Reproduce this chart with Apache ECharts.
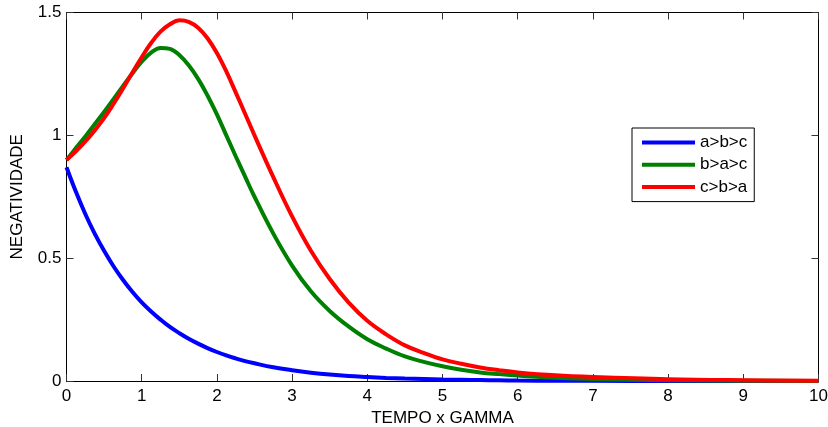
<!DOCTYPE html>
<html>
<head>
<meta charset="utf-8">
<script src="https://cdn.jsdelivr.net/npm/echarts@6/dist/echarts.min.js"></script>
<style>
  html, body { margin: 0; padding: 0; background: #fff; }
  #chart { width: 828px; height: 427px; }
</style>
</head>
<body>
<div id="chart"></div>
<script>
// Sample times (TEMPO x GAMMA)
const tempo = [0, 0.125, 0.25, 0.375, 0.5, 0.625, 0.75, 0.875, 1, 1.125, 1.25, 1.375, 1.5, 1.625, 1.75, 1.875, 2, 2.125, 2.25, 2.375, 2.5,
  2.75, 3, 3.25, 3.5, 3.75, 4, 4.25, 4.5, 4.75, 5, 5.25, 5.5, 5.75, 6, 6.5, 7, 8, 9, 10];

// Negativity for each ordering
const abc = [0.87, 0.77, 0.68, 0.60, 0.53, 0.467, 0.412, 0.363, 0.32, 0.283, 0.25, 0.22, 0.195, 0.172, 0.152, 0.134, 0.118, 0.104, 0.092, 0.081, 0.072,
  0.056, 0.044, 0.034, 0.026, 0.02, 0.016, 0.0125, 0.01, 0.008, 0.006, 0.005, 0.004, 0.003, 0.002, 0.001, 0.001, 0, 0, 0];
const bac = [0.90, 0.948, 0.995, 1.045, 1.095, 1.147, 1.20, 1.252, 1.30, 1.337, 1.356, 1.352, 1.327, 1.285, 1.23, 1.162, 1.085, 1.0, 0.915, 0.832, 0.75,
  0.60, 0.47, 0.365, 0.285, 0.222, 0.17, 0.132, 0.10, 0.078, 0.06, 0.046, 0.035, 0.028, 0.022, 0.013, 0.008, 0.003, 0.001, 0];
const cba = [0.90, 0.935, 0.975, 1.02, 1.07, 1.128, 1.19, 1.255, 1.318, 1.376, 1.422, 1.452, 1.468, 1.462, 1.438, 1.395, 1.335, 1.26, 1.175, 1.088, 1.00,
  0.83, 0.67, 0.53, 0.415, 0.32, 0.245, 0.19, 0.145, 0.114, 0.088, 0.07, 0.055, 0.044, 0.035, 0.023, 0.016, 0.007, 0.003, 0.001];

const seriesNames = ['a>b>c', 'b>a>c', 'c>b>a'];
const seriesColors = ['#0000ff', '#008000', '#ff0000'];
const seriesValues = [abc, bac, cba];

const xTicks = { min: 0, max: 10, interval: 1 };
const yTicks = { min: 0, max: 1.5, interval: 0.5 };

const FONT = 'Liberation Sans, Arial, Helvetica, sans-serif';
const FS = 17;

function pairs(values) {
  return tempo.map((t, i) => [t, values[i]]);
}

const chart = echarts.init(document.getElementById('chart'), null, { renderer: 'canvas' });

const tickStyle = { show: true, inside: true, length: 7, lineStyle: { color: '#333', width: 1 } };
const lineStyle = { show: true, onZero: false, lineStyle: { color: '#000', width: 1 } };

chart.setOption({
  animation: false,
  backgroundColor: '#fff',
  grid: { left: 66.5, right: 9.5, top: 12.5, bottom: 46, containLabel: false, outerBoundsMode: 'none' },
  legend: {
    data: seriesNames,
    orient: 'vertical',
    left: 632,
    top: 128,
    icon: 'rect',
    itemWidth: 53,
    itemHeight: 4,
    itemGap: 3.3,
    padding: [5, 7, 5, 10],
    backgroundColor: '#fff',
    borderColor: '#000',
    borderWidth: 1,
    borderRadius: 0,
    textStyle: { fontFamily: FONT, fontSize: FS, color: '#000', lineHeight: 19 }
  },
  xAxis: [
    {
      type: 'value', position: 'bottom',
      min: xTicks.min, max: xTicks.max, interval: xTicks.interval,
      name: 'TEMPO x GAMMA', nameLocation: 'middle', nameGap: 28,
      nameTextStyle: { fontFamily: FONT, fontSize: FS, color: '#000' },
      axisLine: lineStyle, axisTick: tickStyle,
      axisLabel: { fontFamily: FONT, fontSize: FS, color: '#000', margin: 7 },
      splitLine: { show: false }
    },
    {
      type: 'value', position: 'top',
      min: xTicks.min, max: xTicks.max, interval: xTicks.interval,
      axisLine: lineStyle, axisTick: tickStyle,
      axisLabel: { show: false }, splitLine: { show: false }
    }
  ],
  yAxis: [
    {
      type: 'value', position: 'left',
      min: yTicks.min, max: yTicks.max, interval: yTicks.interval,
      name: 'NEGATIVIDADE', nameLocation: 'middle', nameGap: 41, nameRotate: 90,
      nameTextStyle: { fontFamily: FONT, fontSize: FS, color: '#000' },
      axisLine: lineStyle, axisTick: tickStyle,
      axisLabel: { fontFamily: FONT, fontSize: FS, color: '#000', margin: 5 },
      splitLine: { show: false }
    },
    {
      type: 'value', position: 'right',
      min: yTicks.min, max: yTicks.max, interval: yTicks.interval,
      axisLine: lineStyle, axisTick: tickStyle,
      axisLabel: { show: false }, splitLine: { show: false }
    }
  ],
  series: seriesNames.map((name, i) => ({
    name: name,
    type: 'line',
    xAxisIndex: 0,
    yAxisIndex: 0,
    data: pairs(seriesValues[i]),
    smooth: 0.4,
    showSymbol: false,
    symbol: 'none',
    color: seriesColors[i],
    lineStyle: { color: seriesColors[i], width: 4 },
    z: 2 + i
  }))
});
</script>
</body>
</html>
